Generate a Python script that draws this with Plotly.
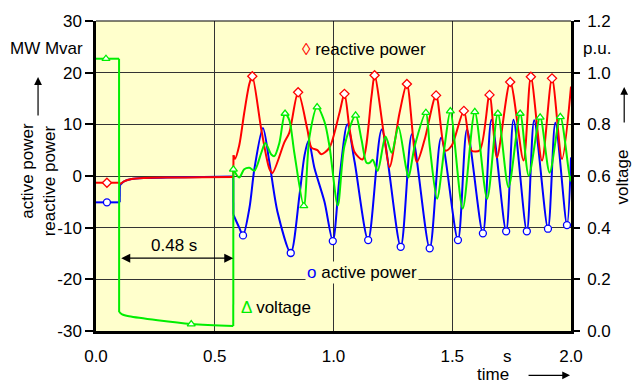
import plotly.graph_objects as go

# ---------------- data ----------------
# time axis in s, powers in MW / Mvar, voltage in p.u.
t_reactive = [0, 0.046, 0.1, 0.101, 0.12, 0.15, 0.2, 0.3, 0.45, 0.578, 0.579, 0.585,
              0.603, 0.624, 0.646, 0.658, 0.696, 0.730, 0.743, 0.793, 0.814, 0.851,
              0.890, 0.907, 0.932, 0.949, 0.983, 1.025, 1.046, 1.068, 1.089, 1.122,
              1.160, 1.173, 1.215, 1.236, 1.278, 1.309, 1.351, 1.384, 1.432, 1.471,
              1.498, 1.549, 1.582, 1.616, 1.657, 1.688, 1.744, 1.800, 1.831, 1.878,
              1.920, 1.962, 2.0]
reactive_power = [-1.3, -1.3, -1.3, -1.6, -1.0, -0.6, -0.4, -0.3, -0.25, -0.2, 4.0, 3.3,
                  5.9, 12.2, 17.9, 19.3, 9.0, 1.4, 0.6, 6.5, 8.4, 16.2,
                  9.0, 5.5, 5.0, 4.2, 5.5, 12.2, 15.9, 9.0, 4.6, 3.2,
                  15.4, 19.5, 7.1, 1.7, 12.2, 17.8, 2.7, 7.1, 15.6, 4.9,
                  5.9, 12.6, 4.9, 5.0, 15.7, 3.6, 18.2, 3.0, 19.2, 3.0,
                  18.9, 3.3, 17.3]
t_reactive_markers = [0.046, 0.658, 0.851, 1.046, 1.173, 1.309, 1.432, 1.549, 1.657,
                      1.744, 1.831, 1.920]

t_active = [0, 0.046, 0.1, 0.1005, 0.12, 0.15, 0.2, 0.3, 0.45, 0.578, 0.5785, 0.603,
            0.619, 0.646, 0.667, 0.703, 0.730, 0.764, 0.820, 0.857, 0.878, 0.895,
            0.920, 0.962, 0.997, 1.025, 1.058, 1.089, 1.146, 1.203, 1.283, 1.330,
            1.405, 1.453, 1.524, 1.562, 1.629, 1.665, 1.727, 1.758, 1.814, 1.845,
            1.903, 1.934, 1.983, 2.0]
active_power = [-5.1, -5.1, -5.1, -1.8, -1.0, -0.6, -0.4, -0.3, -0.2, -0.1, -7.5, -10.0,
                -11.5, -6.2, 1.4, 9.3, 2.7, -6.9, -14.9, -3.6, 4.0, 6.8,
                1.5, -5.0, -12.6, -0.5, 10.0, 2.7, -12.4, 9.0, -13.7, 8.1,
                -14.0, 7.4, -12.4, 9.0, -11.1, 10.9, -10.7, 10.9, -10.7, 10.8,
                -10.2, 10.3, -9.5, 3.6]
t_active_markers = [0.046, 0.619, 0.820, 0.997, 1.146, 1.283, 1.405, 1.524, 1.629,
                    1.727, 1.814, 1.903, 1.983]

t_voltage = [0, 0.042, 0.097, 0.0975, 0.11, 0.139, 0.401, 0.578, 0.5785, 0.603, 0.624,
             0.646, 0.667, 0.696, 0.713, 0.738, 0.751, 0.772, 0.796, 0.814, 0.835,
             0.875, 0.899, 0.931, 0.962, 0.983, 1.018, 1.046, 1.093, 1.118, 1.139,
             1.152, 1.165, 1.186, 1.219, 1.245, 1.273, 1.304, 1.316, 1.342, 1.389,
             1.405, 1.436, 1.468, 1.492, 1.544, 1.595, 1.647, 1.692, 1.737, 1.786,
             1.822, 1.870, 1.910, 1.955, 1.997, 2.0]
voltage = [1.054, 1.054, 1.054, 0.074, 0.064, 0.057, 0.027, 0.019, 0.626, 0.594, 0.626,
           0.632, 0.620, 0.690, 0.728, 0.683, 0.677, 0.728, 0.842, 0.816, 0.690,
           0.484, 0.753, 0.867, 0.810, 0.716, 0.486, 0.716, 0.835, 0.740, 0.651,
           0.651, 0.663, 0.620, 0.753, 0.690, 0.791, 0.640, 0.594, 0.716, 0.845,
           0.716, 0.512, 0.716, 0.851, 0.474, 0.848, 0.512, 0.842, 0.556, 0.842,
           0.601, 0.827, 0.613, 0.829, 0.582, 0.600]
t_voltage_markers = [0.042, 0.401, 0.5785, 0.796, 0.875, 0.931, 1.093, 1.389, 1.492,
                     1.595, 1.692, 1.786, 1.870, 1.955]

fault_start = 0.1
fault_end = 0.578
fault_duration_label = "0.48 s"

x_ticks = [0.0, 0.5, 1.0, 1.5, 2.0]
y_ticks = [-30, -20, -10, 0, 10, 20, 30]
y_tick_labels = ["-30", "-20", "-10", "0", "10", "20", "30"]
y2_ticks = [0.0, 0.2, 0.4, 0.6, 0.8, 1.0, 1.2]

# ---------------- styling ----------------
FONT = "Liberation Sans, Arial, Helvetica, sans-serif"
FS = 17
BG = "#FFFFCC"
RED = "#FF0000"
BLUE = "#0000FF"
GREEN = "#00EE00"


def pick(ts, vals, sel):
    lookup = dict(zip(ts, vals))
    return sel, [lookup[s] for s in sel]


def split_jumps(ts, vals, gap=0.0015):
    """Smooth segments separated by None, plus the vertical jump connectors."""
    sx, sy, jx, jy = [ts[0]], [vals[0]], [], []
    for i in range(1, len(ts)):
        if ts[i] - ts[i - 1] < gap:
            sx.append(None); sy.append(None)
            jx += [ts[i - 1], ts[i], None]
            jy += [vals[i - 1], vals[i], None]
        sx.append(ts[i]); sy.append(vals[i])
    return sx, sy, jx, jy


fig = go.Figure()


def add_series(ts, vals, color, axis):
    sx, sy, jx, jy = split_jumps(ts, vals)
    fig.add_trace(go.Scatter(x=sx, y=sy, mode="lines", yaxis=axis, connectgaps=False,
                             line=dict(color=color, width=2, shape="spline", smoothing=0.8),
                             showlegend=False, hoverinfo="skip"))
    fig.add_trace(go.Scatter(x=jx, y=jy, mode="lines", yaxis=axis, connectgaps=False,
                             line=dict(color=color, width=2),
                             showlegend=False, hoverinfo="skip"))


add_series(t_active, active_power, BLUE, "y")
add_series(t_reactive, reactive_power, RED, "y")
add_series(t_voltage, voltage, GREEN, "y2")

mx, my = pick(t_active, active_power, t_active_markers)
fig.add_trace(go.Scatter(x=mx, y=my, mode="markers",
                         marker=dict(symbol="circle", size=7, color="white",
                                     line=dict(color=BLUE, width=1.3)),
                         showlegend=False, hoverinfo="skip"))
mx, my = pick(t_reactive, reactive_power, t_reactive_markers)
fig.add_trace(go.Scatter(x=mx, y=my, mode="markers",
                         marker=dict(symbol="diamond", size=7, color="white",
                                     line=dict(color=RED, width=1.3)),
                         showlegend=False, hoverinfo="skip"))
mx, my = pick(t_voltage, voltage, t_voltage_markers)
fig.add_trace(go.Scatter(x=mx, y=my, mode="markers", yaxis="y2",
                         marker=dict(symbol="triangle-up", size=7, color="white",
                                     line=dict(color=GREEN, width=1.3)),
                         showlegend=False, hoverinfo="skip"))

ann = []
txt = dict(family=FONT, size=FS, color="black")
# axis captions
ann.append(dict(xref="paper", yref="paper", x=-0.105, y=0.911, text="MW Mvar",
                showarrow=False, font=txt, xanchor="center", yanchor="middle"))
ann.append(dict(xref="paper", yref="paper", x=-0.122, y=0.819, ax=0, ay=40, text="",
                showarrow=True, arrowhead=2, arrowsize=1.3, arrowwidth=1.2, arrowcolor="black"))
ann.append(dict(xref="paper", yref="paper", x=-0.143, y=0.517, text="active power",
                showarrow=False, font=txt, textangle=-90, xanchor="center", yanchor="middle"))
ann.append(dict(xref="paper", yref="paper", x=-0.099, y=0.486, text="reactive power",
                showarrow=False, font=txt, textangle=-90, xanchor="center", yanchor="middle"))
ann.append(dict(xref="paper", yref="paper", x=1.055, y=0.911, text="p.u.",
                showarrow=False, font=txt, xanchor="center", yanchor="middle"))
ann.append(dict(xref="paper", yref="paper", x=1.112, y=0.787, ax=0, ay=37, text="",
                showarrow=True, arrowhead=2, arrowsize=1.3, arrowwidth=1.2, arrowcolor="black"))
ann.append(dict(xref="paper", yref="paper", x=1.109, y=0.498, text="voltage",
                showarrow=False, font=txt, textangle=-90, xanchor="center", yanchor="middle"))
ann.append(dict(xref="paper", yref="paper", x=0.867, y=-0.083, text="s",
                showarrow=False, font=txt, xanchor="center", yanchor="middle"))
ann.append(dict(xref="paper", yref="paper", x=0.836, y=-0.14, text="time",
                showarrow=False, font=txt, xanchor="center", yanchor="middle"))
ann.append(dict(xref="paper", yref="paper", x=0.998, y=-0.143, ax=-43, ay=0, text="",
                showarrow=True, arrowhead=2, arrowsize=1.3, arrowwidth=1.2, arrowcolor="black"))
# fault duration
ann.append(dict(xref="x", yref="y", x=fault_end, y=-15.9, axref="x", ayref="y",
                ax=fault_start, ay=-15.9, text="", showarrow=True, arrowside="end+start",
                arrowhead=2, arrowsize=1.5, arrowwidth=1.2, arrowcolor="black"))
ann.append(dict(xref="x", yref="y", x=(fault_start + fault_end) / 2 - 0.01, y=-13.5,
                text=fault_duration_label, showarrow=False, font=txt,
                xanchor="center", yanchor="middle"))
# series labels
ann.append(dict(xref="paper", yref="paper", x=0.564, y=0.908,
                text=f'<span style="color:{RED}">\u25ca</span> reactive power',
                showarrow=False, font=txt, xanchor="center", yanchor="middle"))
ann.append(dict(xref="paper", yref="paper", x=0.56, y=0.19,
                text=f'<span style="color:{BLUE}">o</span> active power',
                showarrow=False, font=txt, xanchor="center", yanchor="middle",
                bgcolor=BG))
ann.append(dict(xref="paper", yref="paper", x=0.379, y=0.076,
                text=f'<span style="color:{GREEN}">\u0394</span> voltage',
                showarrow=False, font=txt, xanchor="center", yanchor="middle"))

fig.update_layout(
    width=632, height=383,
    margin=dict(l=96, r=61, t=16, b=52),
    paper_bgcolor="white", plot_bgcolor=BG,
    font=dict(family=FONT, size=FS, color="black"),
    xaxis=dict(range=[0, 2], tickvals=x_ticks, tickformat=".1f",
               showgrid=True, gridcolor="#333333", gridwidth=1,
               showline=True, linecolor="black", linewidth=2.5,
               ticks="", zeroline=False, tickfont=dict(size=FS),
               ticklabelstandoff=8),
    yaxis=dict(range=[-30, 30], tickvals=y_ticks, ticktext=y_tick_labels,
               showgrid=True, gridcolor="#333333", gridwidth=1,
               zeroline=False, showline=True, linecolor="black", linewidth=2.5,
               ticks="outside", ticklen=8, tickwidth=2, tickcolor="black",
               tickfont=dict(size=FS)),
    yaxis2=dict(range=[0, 1.2], tickvals=y2_ticks, tickformat=".1f",
                overlaying="y", side="right", showgrid=False, zeroline=False,
                showline=True, linecolor="black", linewidth=2.5,
                ticks="outside", ticklen=6, tickwidth=2, tickcolor="black",
                tickfont=dict(size=FS), ticklabelstandoff=4),
    annotations=ann,
    shapes=[dict(type="line", xref="paper", yref="paper", x0=0, x1=1, y0=1, y1=1,
                 line=dict(color="black", width=1.2))],
)

fig.write_html("out.html")
